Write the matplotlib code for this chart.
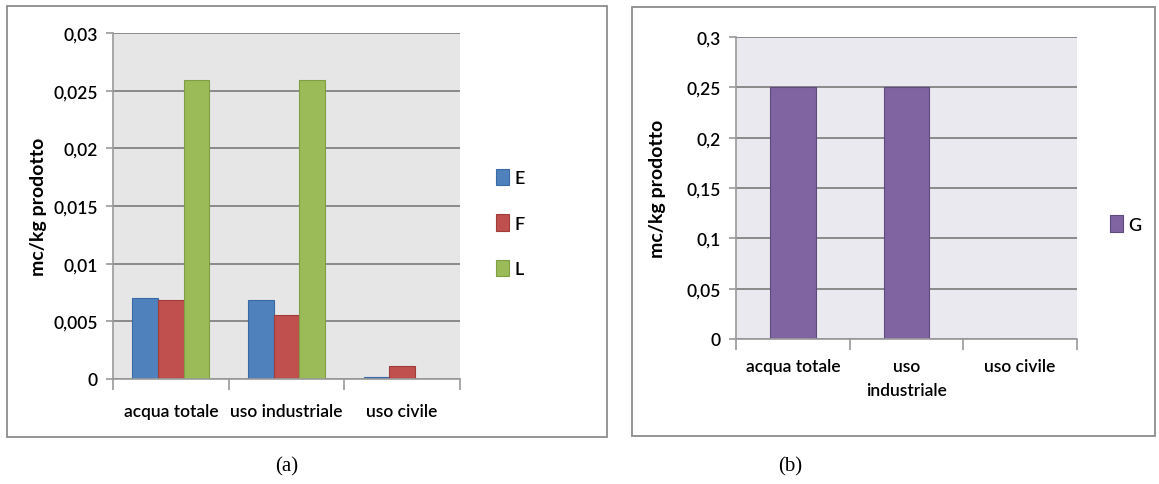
import matplotlib
matplotlib.use("Agg")
import matplotlib.pyplot as plt
import numpy as np
from matplotlib.patches import Rectangle
from matplotlib.ticker import FuncFormatter

plt.rcParams['font.family'] = ['Lato', 'DejaVu Sans']

# Data
categories = ["acqua totale", "uso industriale", "uso civile"]
categories_b = ["acqua totale", "uso\nindustriale", "uso civile"]
series_a = ["E", "F", "L"]
values_E = [0.0070, 0.00685, 0.0002]
values_F = [0.00685, 0.00557, 0.00115]
values_L = [0.0259, 0.0259, 0.0]
values_G = [0.25, 0.25, 0.0]
ticks_a = [0, 0.005, 0.01, 0.015, 0.02, 0.025, 0.03]
ticks_b = [0, 0.05, 0.1, 0.15, 0.2, 0.25, 0.3]

colors_a = ["#4f81bd", "#c0504d", "#9bbb59"]
edges_a = ["#3a6aa5", "#a03c3a", "#7f9e45"]
color_G = "#8064a2"
edge_G = "#5f4a7e"

W, H = 1159, 485
fig = plt.figure(figsize=(W / 100, H / 100), dpi=100)
fig.patch.set_facecolor("white")

TEXT_W = "semibold"


def px_axes(x0, y_top, x1, y_bot):
    return fig.add_axes([x0 / W, 1 - y_bot / H, (x1 - x0) / W, (y_bot - y_top) / H])


def comma_fmt(v, pos):
    if v == 0:
        return "0"
    s = ("%.3f" % v).rstrip("0").rstrip(".")
    return s.replace(".", ",")


def style_axes(ax, bg, ticks, top):
    ax.set_facecolor(bg)
    ax.set_ylim(0, top)
    ax.set_yticks(ticks)
    ax.yaxis.set_major_formatter(FuncFormatter(comma_fmt))
    ax.grid(axis="y", color="#8a8a8a", linewidth=1.4)
    ax.set_axisbelow(True)
    for s in ["top", "right"]:
        ax.spines[s].set_visible(False)
    ax.spines["left"].set_color("#9a9a9a")
    ax.spines["bottom"].set_color("#9a9a9a")
    ax.spines["left"].set_linewidth(1.2)
    ax.spines["bottom"].set_linewidth(1.2)
    ax.set_xlim(0, 3)
    ax.set_xticks([0, 1, 2, 3])
    ax.set_xticklabels([])
    ax.set_xticks([0.5, 1.5, 2.5], minor=True)
    ax.tick_params(axis="x", which="major", length=8, color="#9a9a9a", width=1.2)
    ax.tick_params(axis="x", which="minor", length=0, pad=17, labelsize=12.5)
    ax.tick_params(axis="y", length=5, color="#9a9a9a", width=1.2, labelsize=12.5, pad=6)
    for t in ax.get_yticklabels():
        t.set_fontweight(TEXT_W)
    ax.set_ylabel("mc/kg prodotto", fontsize=14, fontweight="bold", labelpad=6)


def weight_minor(ax):
    for t in ax.get_xticklabels(minor=True):
        t.set_fontweight(TEXT_W)


# Panel frames
fig.add_artist(Rectangle((7 / W, 1 - 438 / H), 600 / W, 431 / H, transform=fig.transFigure,
                         fill=False, edgecolor="#8c8c8c", linewidth=1.3))
fig.add_artist(Rectangle((632 / W, 1 - 437 / H), 523 / W, 429 / H, transform=fig.transFigure,
                         fill=False, edgecolor="#8c8c8c", linewidth=1.3))

# Panel (a)
ax1 = px_axes(113, 34, 460, 380)
style_axes(ax1, "#e6e6e6", ticks_a, 0.03)
x = np.arange(len(categories)) + 0.5
group = 3 / 4.5
bw = group / 3
for i, (name, vals) in enumerate(zip(series_a, [values_E, values_F, values_L])):
    ax1.bar(x - group / 2 + bw * (i + 0.5), vals, width=bw, color=colors_a[i],
            edgecolor=edges_a[i], linewidth=0.8, label=name)
ax1.set_xticklabels(categories, minor=True)
weight_minor(ax1)
ax1.yaxis.set_label_coords(-0.19, 0.5)
h, l = ax1.get_legend_handles_labels()
fig.legend(h, l, loc="center left", bbox_to_anchor=(487 / W, 1 - 224 / H),
           frameon=False, handlelength=0.7, handleheight=1.0, handletextpad=0.3,
           labelspacing=1.55, prop={"size": 13, "weight": TEXT_W}, borderpad=0)

# Panel (b)
ax2 = px_axes(736, 38, 1077, 340)
style_axes(ax2, "#ebe9f0", ticks_b, 0.3)
ax2.bar(x, values_G, width=0.4, color=color_G, edgecolor=edge_G, linewidth=0.8, label="G")
ax2.set_xticklabels(categories_b, minor=True)
weight_minor(ax2)
ax2.tick_params(axis="x", which="minor", pad=14, labelsize=12.5)
for t in ax2.get_xticklabels(minor=True):
    t.set_linespacing(1.55)
ax2.yaxis.set_label_coords(-0.205, 0.5)
h2, l2 = ax2.get_legend_handles_labels()
fig.legend(h2, l2, loc="center left", bbox_to_anchor=(1101 / W, 1 - 225 / H),
           frameon=False, handlelength=0.7, handleheight=1.0, handletextpad=0.3,
           prop={"size": 13, "weight": TEXT_W}, borderpad=0)

# Captions
fig.text(287 / W, 1 - 467 / H, "(a)", ha="center", va="center",
         family="Liberation Serif", fontsize=15)
fig.text(790 / W, 1 - 467 / H, "(b)", ha="center", va="center",
         family="Liberation Serif", fontsize=15)

fig.savefig("out.png", dpi=100)
